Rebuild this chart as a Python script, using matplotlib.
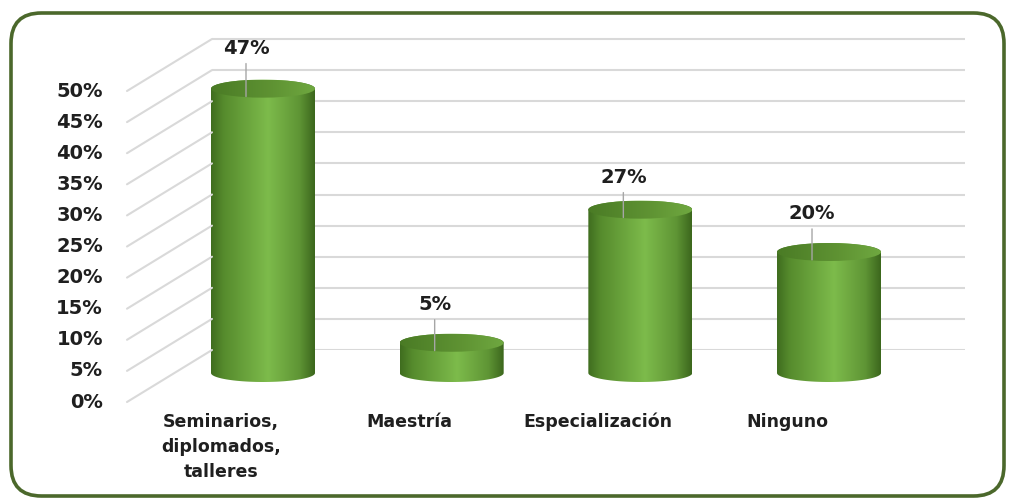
import numpy as np
import matplotlib
matplotlib.use("Agg")
import matplotlib.pyplot as plt
from matplotlib.patches import Polygon, Ellipse, FancyBboxPatch, ConnectionPatch
from matplotlib.colors import LinearSegmentedColormap
from matplotlib.transforms import ScaledTranslation, blended_transform_factory

# ---- data ----
categories = ["Seminarios,\ndiplomados,\ntalleres", "Maestría", "Especialización", "Ninguno"]
values = [47, 5, 27, 20]
value_labels = ["47%", "5%", "27%", "20%"]
tick_values = [0, 5, 10, 15, 20, 25, 30, 35, 40, 45, 50]
tick_labels = ["0%", "5%", "10%", "15%", "20%", "25%", "30%", "35%", "40%", "45%", "50%"]

W, H = 1014, 501
fig = plt.figure(figsize=(W / 100, H / 100), dpi=100)
fig.patch.set_facecolor("white")

FONT = "DejaVu Sans"

# border
border = FancyBboxPatch((11 / W, 5 / H), (W - 21) / W, (H - 18) / H,
                        boxstyle="round,pad=0,rounding_size=0.03",
                        transform=fig.transFigure, facecolor="none",
                        edgecolor="#4b682b", linewidth=2.6, zorder=10,
                        mutation_aspect=W / H)
fig.patches.append(border)

# ---- back wall axes (gridlines) ----
wall_top = 50.3
axw = fig.add_axes([212 / W, (H - 350) / H, (965 - 212) / W, (311 / 50 * wall_top) / H])
axw.set_xlim(0, 1)
axw.set_ylim(0, wall_top)
axw.set_facecolor("none")
for s in axw.spines.values():
    s.set_visible(False)
axw.set_xticks([])
axw.set_yticks(tick_values)
axw.tick_params(left=False, labelleft=False)
axw.yaxis.grid(True, color="#d9d9d9", linewidth=1.5)
axw.set_axisbelow(True)

blend = blended_transform_factory(axw.transAxes, axw.transData)
front = blend + ScaledTranslation(-0.85, -0.52, fig.dpi_scale_trans)
labpos = blend + ScaledTranslation(-1.09, -0.52, fig.dpi_scale_trans)
for v, lab in zip(tick_values, tick_labels):
    con = ConnectionPatch(xyA=(0, v), coordsA=front, xyB=(0, v), coordsB=blend,
                          color="#d9d9d9", linewidth=1.5)
    fig.add_artist(con)
    axw.text(0, v, lab, transform=labpos, ha="right", va="center",
             fontsize=14, fontweight="bold", family=FONT, color="#1f1f1f")

# ---- bars axes ----
xmin, xmax = -0.5, 3.5
ymin, ymax = -4, 56
px_per_x = 188.67
px_per_y = 6.05
left_px = 263 - 0.5 * px_per_x
bottom_px = 373 + (-ymin) * px_per_y
top_px = 373 - ymax * px_per_y
ax = fig.add_axes([left_px / W, (H - bottom_px) / H, 4 * px_per_x / W, (bottom_px - top_px) / H])
ax.set_facecolor("none")
for s in ax.spines.values():
    s.set_visible(False)
ax.set_xticks([])
ax.set_yticks([])

hw = 52 / px_per_x
ey = 9 / px_per_y

body_cmap = LinearSegmentedColormap.from_list(
    "body", [(0, "#3f6d1f"), (0.12, "#568b2d"), (0.55, "#7dbb4b"), (0.85, "#5f9535"), (1, "#3c671d")])
top_cmap = LinearSegmentedColormap.from_list(
    "top", [(0, "#4a7b25"), (0.6, "#5f9333"), (1, "#6fa840")])
grad = np.linspace(0, 1, 256).reshape(1, -1)

label_dy = [48, 46, 40, 46]

for i, v in enumerate(values):
    t1 = np.linspace(np.pi, 2 * np.pi, 60)
    t2 = np.linspace(0, np.pi, 60)
    xs = np.concatenate([i + hw * np.cos(t1), i + hw * np.cos(t2)])
    ys = np.concatenate([0 + ey * np.sin(t1), v + ey * np.sin(t2)])
    poly = Polygon(np.column_stack([xs, ys]), closed=True, facecolor="none", edgecolor="none")
    ax.add_patch(poly)
    im = ax.imshow(grad, extent=[i - hw, i + hw, -ey, v + ey], aspect="auto",
                   cmap=body_cmap, zorder=2, interpolation="bilinear")
    im.set_clip_path(poly)
    top = Ellipse((i, v), 2 * hw, 2 * ey, facecolor="none", edgecolor="none")
    ax.add_patch(top)
    im2 = ax.imshow(grad, extent=[i - hw, i + hw, v - ey, v + ey], aspect="auto",
                    cmap=top_cmap, zorder=3, interpolation="bilinear")
    im2.set_clip_path(top)
    ax.annotate(value_labels[i], xy=(i - 17 / px_per_x, v - 1.3), xycoords="data",
                xytext=(0, label_dy[i]), textcoords="offset pixels", ha="center", va="center",
                fontsize=14, fontweight="bold", family=FONT, color="#1f1f1f",
                arrowprops=dict(arrowstyle="-", color="#a6a6a6", lw=1, shrinkA=2, shrinkB=0),
                zorder=5)
    ax.text(i - 42 / px_per_x, -6.6, categories[i], ha="center", va="top",
            fontsize=12.5, fontweight="bold", family=FONT, color="#1f1f1f",
            linespacing=1.5, clip_on=False)

ax.set_xlim(xmin, xmax)
ax.set_ylim(ymin, ymax)

fig.savefig("out.png", dpi=100, facecolor="white")
